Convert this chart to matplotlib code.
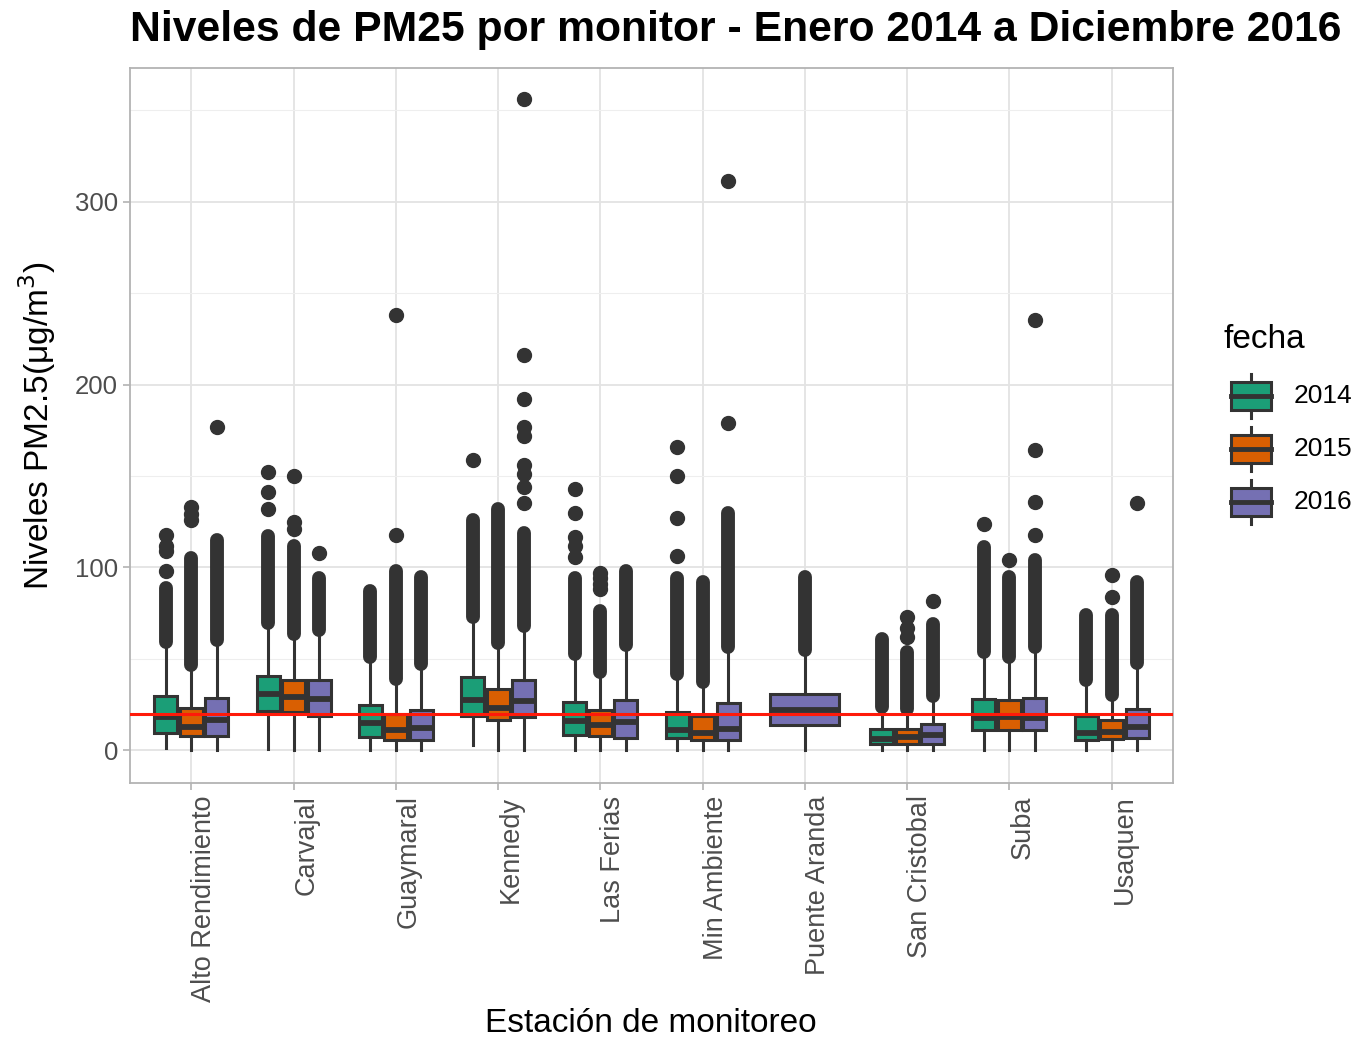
import numpy as np
import matplotlib
matplotlib.use('Agg')
from matplotlib import pyplot as plt
from matplotlib.patches import Rectangle

plt.rcParams['font.family'] = ['Liberation Sans', 'DejaVu Sans']

stations = ['Alto Rendimiento', 'Carvajal', 'Guaymaral', 'Kennedy', 'Las Ferias',
            'Min Ambiente', 'Puente Aranda', 'San Cristobal', 'Suba', 'Usaquen']
years = ['2014', '2015', '2016']
nan = np.nan

# cuartiles y bigotes
q1_2014 = [9.5, 21.3, 7.6, 18.8, 8.7, 7.0, nan, 3.6, 11.0, 5.5]
med_2014 = [18.2, 30.6, 15.0, 27.3, 16.0, 11.0, nan, 6.4, 18.0, 9.7]
q3_2014 = [29.7, 40.6, 25.0, 40.4, 26.4, 21.0, nan, 11.7, 28.2, 18.6]
wlo_2014 = [1.5, 1.0, 0.5, 2.7, 0.3, 0.3, nan, 0.3, 0.3, 0.3]
whi_2014 = [59.4, 69.8, 50.8, 72.8, 52.8, 41.8, nan, 23.8, 53.8, 38.4]
dense_2014 = [89, 117, 87, 126, 94, 94, nan, 61, 111, 74]
pts_2014 = [[98, 109, 112, 118], [132, 141, 152], [], [159], [105.6, 112, 116.6, 130, 143],
            [106, 127, 150, 166], [], [], [124], []]

q1_2015 = [7.7, 21.0, 5.8, 16.8, 8.0, 5.8, nan, 3.6, 11.0, 6.4]
med_2015 = [13.0, 29.3, 11.0, 23.3, 13.7, 9.8, nan, 7.6, 18.2, 10.0]
q3_2015 = [23.3, 38.3, 20.0, 33.7, 22.2, 18.6, nan, 11.5, 27.3, 16.4]
wlo_2015 = [0.2, 0.2, 0.2, 0.2, 0.2, 0.2, nan, 0.2, 0.2, 0.2]
whi_2015 = [46.8, 63.5, 39.3, 58.8, 42.8, 37.5, nan, 22.8, 50.8, 30.2]
dense_2015 = [105, 112, 98, 132, 76, 92, nan, 54, 95, 74]
pts_2015 = [[126, 129, 133], [121, 125, 150], [118, 238], [], [88, 91, 94, 97],
            [], [], [62, 67, 73], [104], [84, 96]]

q1_2016 = [7.8, 19.0, 5.8, 18.2, 7.0, 5.8, 13.7, 3.6, 11.0, 6.7]
med_2016 = [16.4, 27.9, 12.0, 27.0, 15.5, 11.8, 21.9, 8.4, 17.8, 12.7]
q3_2016 = [28.8, 38.3, 22.2, 38.3, 27.3, 25.9, 30.6, 14.2, 28.8, 22.8]
wlo_2016 = [0.2, 0.2, 0.2, 0.2, 0.2, 0.2, 0.2, 0.2, 0.2, 0.2]
whi_2016 = [60.3, 65.8, 47.5, 67.8, 57.5, 56.8, 54.8, 29.8, 56.8, 47.8]
dense_2016 = [115, 94, 95, 119, 98, 130, 95, 69, 104, 92]
pts_2016 = [[177], [108], [], [135, 144, 151, 156, 172, 177, 192, 216, 356], [],
            [179, 311], [], [81.6], [117.5, 136, 164, 235], [135]]

limite = 20

colores = ['#1B9E77', '#D95F02', '#7570B3']
edge = '#333333'
datos = [
    (q1_2014, med_2014, q3_2014, wlo_2014, whi_2014, dense_2014, pts_2014),
    (q1_2015, med_2015, q3_2015, wlo_2015, whi_2015, dense_2015, pts_2015),
    (q1_2016, med_2016, q3_2016, wlo_2016, whi_2016, dense_2016, pts_2016),
]

fig = plt.figure(figsize=(13.7, 10.43), dpi=100)
ax = fig.add_axes([130 / 1370, 1 - 783 / 1043, (1173 - 130) / 1370, (783 - 68) / 1043])

offsets = [-0.25, 0.0, 0.25]
for k, (q1, med, q3, wlo, whi, dense, pts) in enumerate(datos):
    stats, pos, wid = [], [], []
    for i in range(len(stations)):
        if np.isnan(med[i]):
            continue
        # estacion con un solo ano ocupa todo el ancho
        solo = sum(not np.isnan(d[1][i]) for d in datos) == 1
        p = i if solo else i + offsets[k]
        w = 0.675 if solo else 0.225
        stats.append(dict(med=med[i], q1=q1[i], q3=q3[i], whislo=wlo[i], whishi=whi[i],
                          fliers=pts[i]))
        pos.append(p)
        wid.append(w)
        # columna densa de atipicos
        lc = ax.vlines(p, whi[i], dense[i], color=edge, lw=10, zorder=3)
        lc.set_capstyle('round')
    ax.bxp(stats, positions=pos, widths=wid, patch_artist=True, showcaps=False,
           boxprops=dict(facecolor=colores[k], edgecolor=edge, linewidth=2.2),
           medianprops=dict(color=edge, linewidth=4.2, solid_capstyle='butt'),
           whiskerprops=dict(color=edge, linewidth=2.2),
           flierprops=dict(marker='o', markersize=10, markerfacecolor=edge,
                           markeredgecolor=edge),
           manage_ticks=False, zorder=4)

ax.axhline(limite, color='#FF1A0A', lw=2.2, zorder=6)

ax.set_xlim(-0.6, len(stations) - 0.4)
ax.set_ylim(-17.8, 373)
ax.set_xticks(range(len(stations)))
ax.set_xticklabels(stations, rotation=90, fontsize=19.5, color='#4D4D4D', ha='left')
ax.set_yticks([0, 100, 200, 300])
ax.set_yticks([50, 150, 250, 350], minor=True)
ax.tick_params(axis='y', which='major', labelsize=18.5, labelcolor='#4D4D4D',
               color='#B3B3B3', length=5, width=1.2)
ax.tick_params(axis='y', which='minor', length=0)
ax.tick_params(axis='x', color='#B3B3B3', length=5, width=1.2, pad=4)
ax.grid(which='major', color='#E3E3E3', lw=1.3, zorder=0)
ax.grid(which='minor', axis='y', color='#EEEEEE', lw=0.8, zorder=0)
ax.set_axisbelow(True)
for s in ax.spines.values():
    s.set_color('#B3B3B3')
    s.set_linewidth(1.3)

ax.set_ylabel('Niveles PM2.5(μg/m$^3$)', fontsize=24, labelpad=12)
fig.text(651 / 1370, 1 - 1024 / 1043, 'Estación de monitoreo', fontsize=24,
         ha='center', va='center')
fig.text(130 / 1370, 1 - 30 / 1043, 'Niveles de PM25 por monitor - Enero 2014 a Diciembre 2016',
         fontsize=30.7, fontweight='bold', ha='left', va='center')

# leyenda dibujada a mano
lg = fig.add_axes([0, 0, 1, 1])
lg.set_xlim(0, 1370)
lg.set_ylim(1043, 0)
lg.axis('off')
lg.text(1224, 340, 'fecha', fontsize=24, va='center', ha='left')
for k, y in enumerate(years):
    yc = 396 + 53 * k
    lg.plot([1251, 1251], [yc - 22, yc + 22], color=edge, lw=2.2)
    lg.add_patch(Rectangle((1231, yc - 14), 40, 28, facecolor=colores[k],
                           edgecolor=edge, lw=2.2, zorder=3))
    lg.plot([1231, 1271], [yc, yc], color=edge, lw=3.5, zorder=4)
    lg.text(1294, yc, y, fontsize=19, va='center', ha='left')

fig.savefig('out.png', dpi=100, facecolor='white')
